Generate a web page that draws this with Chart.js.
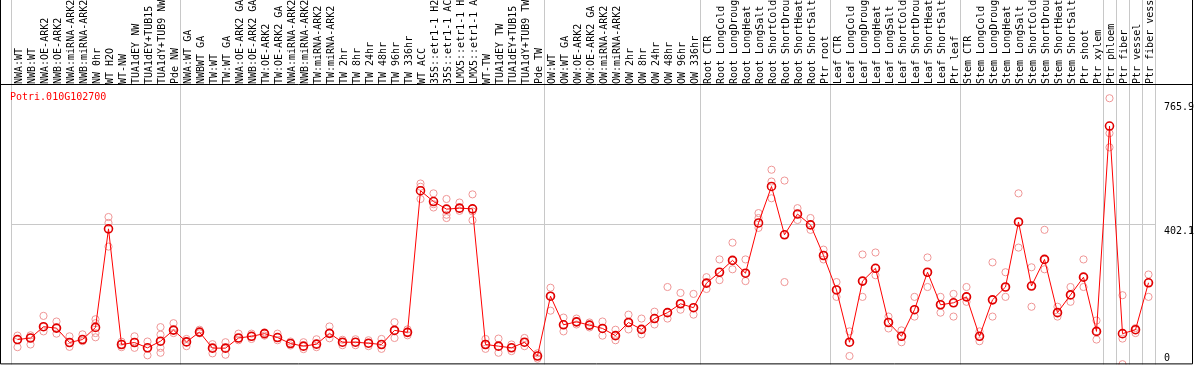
<!DOCTYPE html>
<html>
<head>
<meta charset="utf-8">
<script src="https://cdn.jsdelivr.net/npm/chart.js@4"></script>
<style>
  html, body { margin: 0; padding: 0; background: #fff; }
  canvas { display: block; }
</style>
</head>
<body>
<canvas id="myChart" width="1194" height="370"></canvas>
<script>
const ctx = document.getElementById('myChart').getContext('2d');

// sample names, in the order of the plot
const samples = [
  'NWA:WT', 'NWB:WT', 'NWA:OE-ARK2', 'NWB:OE-ARK2', 'NWA:miRNA-ARK2', 'NWB:miRNA-ARK2', 'NW 0hr',
  'WT H2O', 'WT-NW', 'TUA1dEY NW', 'TUA1dEY+TUB15 NW', 'TUA1dY+TUB9 NW', 'Pde NW',
  'NWA:WT GA', 'NWBWT GA', 'TW:WT', 'TW:WT GA', 'NWA:OE-ARK2 GA', 'NWB:OE-ARK2 GA', 'TW:OE-ARK2',
  'TW:OE-ARK2 GA', 'NWA:miRNA-ARK2', 'NWB:miRNA-ARK2', 'TW:miRNA-ARK2', 'TW:miRNA-ARK2 GA',
  'TW 2hr', 'TW 8hr', 'TW 24hr', 'TW 48hr', 'TW 96hr', 'TW 336hr', 'WT ACC',
  '35S::etr1-1 H2O', '35S::etr1-1 ACC', 'LMX5::etr1-1 H2O', 'LMX5::etr1-1 ACC', 'WT-TW',
  'TUA1dEY TW', 'TUA1dEY+TUB15 TW', 'TUA1dY+TUB9 TW', 'Pde TW',
  'OW:WT', 'OW:WT GA', 'OW:OE-ARK2', 'OW:OE-ARK2 GA', 'OW:miRNA-ARK2', 'OW:miRNA-ARK2 GA',
  'OW 2hr', 'OW 8hr', 'OW 24hr', 'OW 48hr', 'OW 96hr', 'OW 336hr',
  'Root CTR', 'Root LongCold', 'Root LongDrought', 'Root LongHeat', 'Root LongSalt',
  'Root ShortCold', 'Root ShortDrought', 'Root ShortHeat', 'Root ShortSalt', 'Ptr root',
  'Leaf CTR', 'Leaf LongCold', 'Leaf LongDrought', 'Leaf LongHeat', 'Leaf LongSalt',
  'Leaf ShortCold', 'Leaf ShortDrought', 'Leaf ShortHeat', 'Leaf ShortSalt', 'Ptr leaf',
  'Stem CTR', 'Stem LongCold', 'Stem LongDrought', 'Stem LongHeat', 'Stem LongSalt',
  'Stem ShortCold', 'Stem ShortDrought', 'Stem ShortHeat', 'Stem ShortSalt', 'Ptr shoot',
  'Ptr xylem', 'Ptr phloem', 'Ptr fiber', 'Ptr vessel', 'Ptr fiber vessel'
];

// mean expression
const meanValues = [
  71.5, 76.0, 108.4, 104.4, 63.0, 71.5, 106.4, 390.0, 57.3, 63.0, 47.7, 66.7, 98.7,
  64.7, 93.0, 46.8, 46.8, 76.0, 80.8, 88.5, 77.2, 60.1, 52.5, 58.2, 89.4, 63.8, 63.8, 61.0,
  57.3, 97.9, 92.2, 499.8, 468.6, 446.8, 449.6, 447.6, 57.3, 52.5, 47.7, 63.8, 24.1,
  196.3, 114.0, 122.5, 112.9, 103.5, 82.8, 120.6, 100.7, 131.9, 148.9, 174.5, 163.1,
  234.0, 265.2, 299.3, 262.4, 407.1, 512.0, 373.0, 432.6, 401.4, 313.4,
  214.2, 63.8, 239.7, 276.6, 120.6, 80.8, 157.4, 265.2, 171.6, 177.3,
  194.3, 80.8, 185.8, 222.7, 409.9, 225.5, 302.1, 148.9, 200.0, 251.0,
  95.0, 685.9, 88.5, 99.8, 234.9
];

// replicates
const rep1 = [
  82.8, 83.7, 139.6, 123.4, 80.8, 86.5, 129.9, 424.1, 65.2, 80.8, 65.8, 107.2, 118.6,
  73.2, 99.8, 58.2, 63.8, 88.5, 88.5, 92.2, 88.5, 65.8, 63.8, 72.3, 109.2, 70.9, 72.3, 69.5,
  73.2, 121.4, 100.7, 520.5, 492.2, 476.0, 465.8, 489.3, 73.2, 74.3, 57.3, 76.0, 31.8,
  220.7, 134.7, 131.9, 120.6, 123.4, 99.8, 143.2, 131.9, 151.7, 222.7, 205.7, 202.8,
  251.0, 302.1, 350.3, 302.1, 435.4, 560.2, 529.0, 449.6, 421.2, 330.3,
  236.9, 95.0, 316.3, 322.0, 137.6, 97.9, 194.3, 307.8, 194.3, 202.8,
  222.7, 95.0, 293.6, 265.2, 492.2, 279.4, 387.2, 165.9, 222.7, 302.1,
  126.2, 765.9, 199.1, 104.4, 258.7
];
const rep2 = [
  71.0, 76.5, 108.0, 104.9, 62.5, 72.0, 118.6, 407.1, 57.8, 63.5, 47.2, 85.7, 98.2,
  64.2, 93.5, 46.3, 47.3, 75.5, 80.3, 88.9, 77.7, 60.6, 52.0, 58.7, 89.9, 63.3, 64.3, 60.5,
  57.8, 97.4, 92.7, 511.2, 461.0, 430.6, 449.0, 440.2, 57.8, 52.0, 48.2, 63.3, 24.6,
  196.8, 114.5, 122.0, 113.4, 103.0, 83.3, 120.1, 101.2, 131.4, 149.4, 174.0, 163.6,
  234.5, 265.7, 298.8, 262.9, 421.2, 526.2, 373.5, 432.1, 401.9, 313.9,
  214.7, 63.3, 240.2, 276.1, 121.1, 80.3, 157.9, 264.7, 172.1, 176.8,
  194.8, 80.3, 186.3, 222.2, 409.4, 226.0, 301.6, 149.4, 199.5, 251.5,
  95.5, 665.2, 74.3, 99.3, 235.4
];
const rep3 = [
  49.6, 57.3, 95.0, 88.5, 50.5, 66.7, 90.2, 339.0, 49.6, 47.7, 26.1, 66.7, 90.2,
  52.5, 89.4, 31.8, 27.8, 69.5, 73.2, 82.8, 69.5, 54.5, 44.0, 49.6, 75.2, 55.3, 55.3, 52.5,
  44.8, 76.0, 83.7, 476.0, 451.6, 421.2, 441.9, 414.7, 44.8, 33.5, 38.3, 52.5, 16.5,
  154.6, 95.0, 114.9, 106.4, 82.8, 69.5, 100.7, 86.5, 114.9, 131.9, 157.4, 143.2,
  217.0, 242.5, 273.7, 239.7, 392.9, 478.0, 236.9, 415.6, 387.2, 302.1,
  194.3, 24.1, 194.3, 256.7, 103.5, 63.8, 137.6, 222.7, 148.9, 137.6,
  180.1, 66.7, 137.6, 194.3, 336.1, 165.9, 273.7, 137.6, 180.1, 222.7,
  71.5, 624.6, 0.6, 90.2, 194.3
];
// the few samples with more than three replicates
const extraSamples = ['NW 0hr', 'TUA1dY+TUB9 NW', 'TUA1dY+TUB9 NW'];
const extraValues = [78.0, 47.7, 33.5];

const geneId = 'Potri.010G102700';
const yLabels = [0, 402.1, 765.9];
const groupEdges = [0, 13, 41, 53, 63, 73, 84, 85, 86, 87];

const monoFont = { family: 'DejaVu Sans Mono', size: 10 };
const repColor = '#ef9696';

function repSet(data) {
  return {
    data: data,
    showLine: false,
    pointRadius: 3.6,
    pointBorderWidth: 1,
    pointBorderColor: repColor,
    pointBackgroundColor: 'rgba(0,0,0,0)',
    borderColor: repColor
  };
}

// frame, gene name and the value labels on the right
const decorations = {
  id: 'decorations',
  afterDraw(chart) {
    const c = chart.ctx;
    const area = chart.chartArea;
    const y = chart.scales.y;
    c.save();
    c.strokeStyle = '#000';
    c.lineWidth = 1;
    c.beginPath();
    c.moveTo(0.5, 0);
    c.lineTo(0.5, area.bottom - 0.5);
    c.lineTo(chart.width - 1.5, area.bottom - 0.5);
    c.lineTo(chart.width - 1.5, 0);
    c.moveTo(0, area.top - 0.5);
    c.lineTo(chart.width - 1, area.top - 0.5);
    c.stroke();

    c.font = '10px "DejaVu Sans Mono"';
    c.textAlign = 'left';
    c.textBaseline = 'alphabetic';
    c.fillStyle = '#ff0000';
    c.fillText(geneId, 10, 100);

    c.fillStyle = '#000';
    yLabels.forEach(v => {
      const py = y.getPixelForValue(v);
      let base = py + 9;
      if (v === 0) base = py - 3.5;
      if (v === yLabels[yLabels.length - 1]) base = py + 12;
      c.fillText(String(v), area.right + 9, base);
    });
    c.restore();
  }
};

const myChart = new Chart(ctx, {
  type: 'line',
  data: {
    labels: samples,
    datasets: [
      {
        data: meanValues,
        borderColor: '#ff0000',
        borderWidth: 1,
        tension: 0,
        pointRadius: 4,
        pointBorderWidth: 1.6,
        pointBorderColor: '#e00000',
        pointBackgroundColor: 'rgba(0,0,0,0)'
      },
      repSet(rep1),
      repSet(rep2),
      repSet(rep3),
      repSet(extraSamples.map((s, i) => ({ x: s, y: extraValues[i] })))
    ]
  },
  options: {
    responsive: false,
    animation: false,
    devicePixelRatio: 1,
    layout: { padding: { left: 11, right: 1, top: 0, bottom: 1 } },
    plugins: {
      legend: { display: false },
      tooltip: { enabled: false }
    },
    scales: {
      x: {
        position: 'top',
        offset: true,
        grid: {
          offset: true,
          // only the group separators are drawn
          color: c => (c.type !== 'tick' || groupEdges.includes(c.index)) ? '#c8c8c8' : 'rgba(0,0,0,0)',
          lineWidth: 1,
          drawTicks: true,
          tickLength: 85
        },
        border: { display: false },
        ticks: {
          autoSkip: false,
          minRotation: 90,
          maxRotation: 90,
          padding: -84,
          labelOffset: 14,
          color: '#000',
          font: monoFont
        },
        afterFit: s => { s.height = 85; }
      },
      y: {
        position: 'right',
        min: 0,
        max: 804,
        afterBuildTicks: s => { s.ticks = yLabels.map(v => ({ value: v })); },
        grid: {
          color: c => (c.tick && c.tick.value === 402.1) ? '#c8c8c8' : 'rgba(0,0,0,0)',
          drawTicks: false
        },
        border: { display: false },
        ticks: { display: false },
        afterFit: s => { s.width = 38; }
      }
    }
  },
  plugins: [decorations]
});
</script>
</body>
</html>
